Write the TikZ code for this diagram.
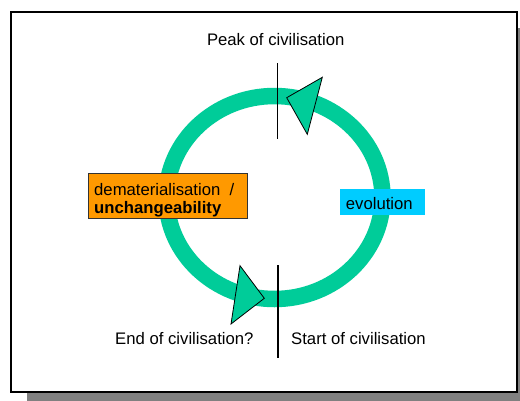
\documentclass[tikz,border=0pt]{standalone}
\usepackage{fontspec}
\setmainfont{Liberation Sans}
\definecolor{ringgreen}{HTML}{00CC99}
\definecolor{boxorange}{HTML}{FF9900}
\definecolor{boxcyan}{HTML}{00CCFF}
\definecolor{shadowgray}{HTML}{808080}
\begin{document}
\begin{tikzpicture}[x=1pt,y=-1pt,
  lbl/.style={inner sep=0pt,font=\fontsize{16.7}{20}\selectfont},
  arrowtri/.style={fill=ringgreen,draw=black,line width=0.8pt,line join=miter}]
\useasboundingbox (0,0) rectangle (520,400);
\clip (0,0) rectangle (520,400);
% shadow and frame
\fill[shadowgray] (27,28) rectangle (536,412);
\draw[line width=2pt,fill=white] (11,12) rectangle (516.5,392);
% ring
\draw[ringgreen,line width=16.5pt] (274.5,197.5) ellipse [x radius=108, y radius=101.5];
% vertical marks
\coordinate (t1) at (277,63);
\coordinate (t2) at (277,139);
\coordinate (b1) at (278,265);
\coordinate (b2) at (278,358);
\draw[line width=0.8pt] (t1) -- (t2);
\draw[line width=1.6pt] (b1) -- (b2);
% arrow heads
\draw[arrowtri] (286.7,97.7) -- (322.3,77.3) -- (307.3,134.3) -- cycle;
\draw[arrowtri] (240,265.7) -- (264.3,298.3) -- (231,324) -- cycle;
% labels
\node[lbl,anchor=base] (peak) at (275.7,45) {Peak of civilisation};
\node[lbl,anchor=base west] (end) at (115,344) {End of civilisation?};
\node[lbl,anchor=base west] (start) at (291,344) {Start of civilisation};
% boxes
\node[draw=black!80,line width=0.6pt,fill=boxorange,minimum width=158.4pt,minimum height=45pt,anchor=north west,inner sep=0pt] (dbox) at (88.3,172.7) {};
\node[lbl,anchor=base west] (dtext) at (94,195.5) {dematerialisation\ \ /};
\node[lbl,anchor=base west,font=\fontsize{16.7}{20}\selectfont\bfseries] (utext) at (94,213.5) {unchangeability};
\node[fill=boxcyan,minimum width=84.7pt,minimum height=25.7pt,anchor=north west,inner sep=0pt] (ebox) at (340,189) {};
\node[lbl,anchor=base west] (etext) at (345.7,209) {evolution};
\end{tikzpicture}
\end{document}
